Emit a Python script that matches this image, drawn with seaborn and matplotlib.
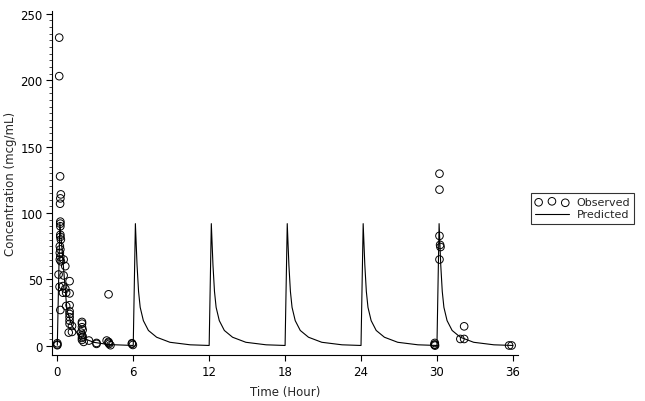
import numpy as np
import pandas as pd
import matplotlib
matplotlib.use("Agg")
import matplotlib.pyplot as plt
import seaborn as sns

# Observed concentrations (time in hours, conc in mcg/mL)
obs_time = [0.0, 0.0, 0.0, 0.15, 0.15, 0.22, 0.28, 0.24, 0.22, 0.24, 0.24, 0.24, 0.24,
            0.24, 0.28, 0.2, 0.24, 0.2, 0.24, 0.2, 0.28, 0.5, 0.63, 0.1, 0.5, 0.18,
            0.45, 0.63, 0.97, 0.45, 0.7, 0.97, 0.24, 0.7, 0.97, 0.97, 0.97, 0.97, 0.97,
            1.16, 0.97, 0.9, 1.16, 1.95, 1.95, 1.95, 1.87, 1.95, 1.95, 1.95, 2.08,
            2.0, 2.0, 2.5, 3.1, 3.1, 4.05, 3.9, 4.05, 4.05, 4.1, 4.2, 5.9, 5.97, 5.9,
            29.83, 29.83, 29.85, 29.8, 30.2, 30.2, 30.2, 30.25, 30.28, 30.2,
            32.15, 31.85, 32.15, 35.7, 35.9]
obs_conc = [1.0, 2.0, 0.5, 232, 203, 127.6, 114, 111, 107, 93.5, 92, 90, 83.6,
            82, 80, 75, 72.6, 70, 67, 65, 63.7, 65, 60, 53.7, 53, 44.5,
            45, 43, 48.7, 40, 40, 39.5, 27, 30, 30.6, 26, 24, 21.6, 19,
            15, 16.6, 10, 10.5, 18, 16.7, 14, 10, 8, 6, 4.5, 3,
            12, 7, 4, 2.2, 1.5, 38.8, 4, 3, 2.3, 1.5, 0.5, 1.5, 0.7, 2.0,
            2.2, 1.0, 0.2, 0.8, 129.6, 117.6, 82.8, 76, 74.4, 65,
            14.7, 5.2, 5.2, 0.3, 0.3]

# Predicted profile, first dosing interval (evaluated at observation times)
pred_first_time = [0.0, 0.2, 0.76, 1.16, 1.8, 2.87, 4.05, 6.0]
pred_first_conc = [0.5, 93, 27, 15, 6.7, 2.7, 1.0, 0.3]

# Predicted profile after each later dose (hours after dose)
profile_time = [0.17, 0.3, 0.42, 0.55, 0.8, 1.2, 1.85, 2.9, 4.5, 6.0]
profile_conc = [92, 61, 41, 29, 19, 11.6, 6.5, 2.7, 0.8, 0.3]
dose_times = [6, 12, 18, 24, 30]

x_ticks = [0, 6, 12, 18, 24, 30, 36]
y_ticks = [0, 50, 100, 150, 200, 250]

pred_t = list(pred_first_time)
pred_c = list(pred_first_conc)
for d in dose_times:
    pred_t += [d + t for t in profile_time]
    pred_c += profile_conc
pred_df = pd.DataFrame({"time": pred_t, "conc": pred_c})
obs_df = pd.DataFrame({"time": obs_time, "conc": obs_conc})

sns.set_theme(style="ticks")
plt.rcParams["font.family"] = ["DejaVu Sans"]

fig = plt.figure(figsize=(6.45, 4.02), dpi=100)
ax = fig.add_axes([0.081, 0.114, 0.722, 0.856])

sns.lineplot(data=pred_df, x="time", y="conc", ax=ax, color="black", lw=0.8,
             sort=False, estimator=None, label="Predicted")
sns.scatterplot(data=obs_df, x="time", y="conc", ax=ax, marker="o", s=30,
                facecolor="none", edgecolor="black", linewidth=0.7, label="Observed")

ax.set_xlim(-0.4, 36.4)
ax.set_ylim(-7, 252)
ax.set_xticks(x_ticks)
ax.set_yticks(y_ticks)
ax.set_yticks(np.arange(0, 251, 5), minor=True)
ax.tick_params(axis="both", which="major", direction="out", length=4, width=0.8,
               labelsize=8.5, colors="black", pad=3)
ax.tick_params(axis="y", which="minor", direction="out", length=2, width=0.6)
ax.set_xlabel("Time (Hour)", fontsize=8.5, labelpad=5)
ax.set_ylabel("Concentration (mcg/mL)", fontsize=8.5, labelpad=2)
for s in ["top", "right"]:
    ax.spines[s].set_visible(False)
for s in ["left", "bottom"]:
    ax.spines[s].set_linewidth(0.8)
    ax.spines[s].set_color("black")

ax.get_legend().remove()
handles, labels = ax.get_legend_handles_labels()
hmap = dict(zip(labels, handles))
leg = fig.legend([hmap["Observed"], hmap["Predicted"]], ["Observed", "Predicted"],
                 loc="upper left", bbox_to_anchor=(0.823, 0.518), borderaxespad=0,
                 fontsize=8, frameon=True, fancybox=False, edgecolor="black",
                 scatterpoints=3, handlelength=3.0, borderpad=0.4, labelspacing=0.2,
                 handletextpad=0.7)
leg.get_frame().set_linewidth(0.8)

fig.savefig("out.png", dpi=100)
